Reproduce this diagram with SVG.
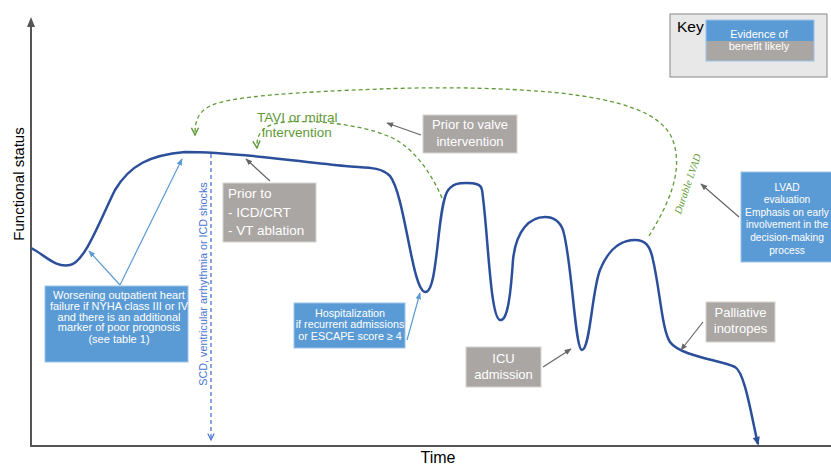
<svg xmlns="http://www.w3.org/2000/svg" width="831" height="465" viewBox="0 0 831 465">
<defs>
<style>
text{font-family:"Liberation Sans",Arial,sans-serif}
.gbox{fill:#aaa6a4;stroke:#d6d4d2;stroke-width:1}
.bbox{fill:#5b9bd5;stroke:#9cc3e8;stroke-width:1}
.wt{fill:#fff}
.gar{fill:none;stroke:#666;stroke-width:1.2;marker-end:url(#ga)}
.bar{fill:none;stroke:#5b9bd5;stroke-width:1.2;marker-end:url(#ba)}
.green{fill:none;stroke:#5f9a37;stroke-width:1.3;stroke-dasharray:4 3;marker-end:url(#gr)}
.axis{stroke:#555;stroke-width:2;fill:none}
</style>
<marker id="ga" viewBox="0 0 10 10" refX="9" refY="5" markerWidth="7" markerHeight="7" orient="auto" markerUnits="userSpaceOnUse"><path d="M0,1 L10,5 L0,9 z" fill="#666"/></marker>
<marker id="ba" viewBox="0 0 10 10" refX="9" refY="5" markerWidth="7" markerHeight="7" orient="auto" markerUnits="userSpaceOnUse"><path d="M0,1 L10,5 L0,9 z" fill="#5b9bd5"/></marker>
<marker id="gr" viewBox="0 0 10 10" refX="9" refY="5" markerWidth="9" markerHeight="9" orient="auto" markerUnits="userSpaceOnUse"><path d="M1,1 L9,5 L1,9" fill="none" stroke="#5f9a37" stroke-width="1.6"/></marker>
<marker id="ca" viewBox="0 0 10 10" refX="8" refY="5" markerWidth="9" markerHeight="9" orient="auto" markerUnits="userSpaceOnUse"><path d="M0,1 L10,5 L0,9 z" fill="#2b4f9b"/></marker>
<marker id="sa" viewBox="0 0 10 10" refX="9" refY="5" markerWidth="8" markerHeight="8" orient="auto" markerUnits="userSpaceOnUse"><path d="M1,1 L9,5 L1,9" fill="none" stroke="#4a74d0" stroke-width="1.5"/></marker>
</defs>
<rect width="831" height="465" fill="#fff"/>

<g id="axes">
<line class="axis" x1="31" y1="24" x2="31" y2="447"/>
<line class="axis" x1="30" y1="446" x2="831" y2="446"/>
<path d="M31,17 L27,27 L35,27 z" fill="#555"/>
<text x="24" y="184" font-size="15" text-anchor="middle" transform="rotate(-90 24 184)">Functional status</text>
<text x="438" y="463" font-size="16" text-anchor="middle">Time</text>
</g>

<g id="curve">
<path d="M31,248 C45,255 55,268 70,265 C85,262 100,220 115,190 C130,165 150,155 185,152 C240,152 300,162 345,166 C365,168 380,166 390,176 C405,195 412,290 425,292 C438,294 437,210 447,192 C452,183 460,183 466,183 C475,183 481,184 482,190 C488,230 490,318 500,320 C508,322 511,290 513,260 C516,230 530,217 545,217 C555,217 560,222 563,230 C572,260 575,350 582,350 C590,350 592,290 600,270 C610,245 625,240 635,240 C645,240 650,245 653,260 C660,290 662,330 670,342 C680,356 720,360 735,367 C745,372 752,420 758,444" fill="none" stroke="#2b4f9b" stroke-width="2.5" marker-end="url(#ca)"/>
</g>

<g id="connectors">
<line class="bar" x1="120" y1="285" x2="89" y2="251"/>
<line class="bar" x1="120" y1="285" x2="182" y2="159"/>
<line class="bar" x1="407" y1="340" x2="420" y2="293"/>
<line x1="211" y1="154" x2="211" y2="440" stroke="#4a74d0" stroke-width="1.3" stroke-dasharray="4 3" marker-end="url(#sa)"/>
<line class="gar" x1="270" y1="181" x2="246" y2="159"/>
<line class="gar" x1="421" y1="135" x2="387" y2="123"/>
<line class="gar" x1="543" y1="367" x2="571" y2="349"/>
<line class="gar" x1="703" y1="322" x2="681" y2="350"/>
<line class="gar" x1="739" y1="217" x2="701" y2="184"/>
<path class="green" d="M649,236 C668,205 685,170 672,138 C660,112 620,100 560,93 C500,87 430,87 380,89 C300,92 230,96 210,106 C197,113 195,122 195,135"/>
<path class="green" d="M442,198 C430,170 410,143 385,135 C360,125 320,120 285,122 C262,124 256,135 257,148"/>
</g>

<g id="label-tavi">
<text x="257" y="122" font-size="13.5" fill="#5f9a37">TAVI or mitral</text>
<text x="262" y="137" font-size="13.5" fill="#5f9a37">intervention</text>
</g>
<g id="label-lvad-durable">
<text x="691" y="185" font-size="10.5" font-style="italic" fill="#5f9a37" text-anchor="middle" style="font-family:'Liberation Serif',serif" transform="rotate(-71 691 185)">Durable LVAD</text>
</g>
<g id="label-scd">
<text x="207" y="284" font-size="10.8" fill="#4a74d0" text-anchor="middle" transform="rotate(-90 207 284)">SCD, ventricular arrhythmia or ICD shocks</text>
</g>

<g id="key">
<rect x="670" y="14" width="157" height="63" fill="#e8e8e8" stroke="#888" stroke-width="1"/>
<text x="677" y="32" font-size="15.5">Key</text>
<rect x="706" y="20" width="108" height="21" fill="#5b9bd5"/>
<rect x="706" y="41" width="108" height="20" fill="#aaa6a4"/>
<rect x="706" y="20" width="108" height="41" fill="none" stroke="#9cc3e8" stroke-width="1"/>
<text class="wt" x="759" y="37.5" font-size="11" text-anchor="middle">Evidence of</text>
<text class="wt" x="759" y="50" font-size="11" text-anchor="middle">benefit likely</text>
</g>

<g id="node-worsening">
<rect class="bbox" x="45" y="286" width="143" height="76"/>
<text class="wt" font-size="11" text-anchor="middle"><tspan x="119" y="298.5">Worsening outpatient heart</tspan><tspan x="119" y="309.5">failure if NYHA class III or IV</tspan><tspan x="119" y="320.5">and there is an additional</tspan><tspan x="119" y="331">marker of poor prognosis</tspan><tspan x="119" y="342.5">(see table 1)</tspan></text>
</g>

<g id="node-prior-icd">
<rect class="gbox" x="223" y="183" width="93" height="59"/>
<text class="wt" font-size="13.5"><tspan x="228" y="198">Prior to</tspan><tspan x="228" y="217">- ICD/CRT</tspan><tspan x="228" y="235">- VT ablation</tspan></text>
</g>

<g id="node-prior-valve">
<rect class="gbox" x="423" y="115" width="94" height="38"/>
<text class="wt" font-size="13" text-anchor="middle"><tspan x="470" y="129">Prior to valve</tspan><tspan x="470" y="146">intervention</tspan></text>
</g>

<g id="node-hosp">
<rect class="bbox" x="294" y="303" width="111" height="45"/>
<text class="wt" font-size="10.8" text-anchor="middle"><tspan x="350" y="317">Hospitalization</tspan><tspan x="350" y="328">if recurrent admissions</tspan><tspan x="350" y="340">or ESCAPE score ≥ 4</tspan></text>
</g>

<g id="node-icu">
<rect class="gbox" x="466" y="347" width="75" height="40"/>
<text class="wt" font-size="13" text-anchor="middle"><tspan x="503.5" y="363">ICU</tspan><tspan x="503.5" y="379">admission</tspan></text>
</g>

<g id="node-palliative">
<rect class="gbox" x="706" y="302" width="69" height="40"/>
<text class="wt" font-size="13" text-anchor="middle"><tspan x="740.5" y="317">Palliative</tspan><tspan x="740.5" y="333">inotropes</tspan></text>
</g>

<g id="node-lvad">
<rect class="bbox" x="741" y="172" width="100" height="90"/>
<text class="wt" font-size="10.2" text-anchor="middle"><tspan x="787" y="191">LVAD</tspan><tspan x="787" y="203">evaluation</tspan><tspan x="787" y="215.5">Emphasis on early</tspan><tspan x="787" y="228">involvement in the</tspan><tspan x="787" y="241">decision-making</tspan><tspan x="787" y="254">process</tspan></text>
</g>
</svg>
